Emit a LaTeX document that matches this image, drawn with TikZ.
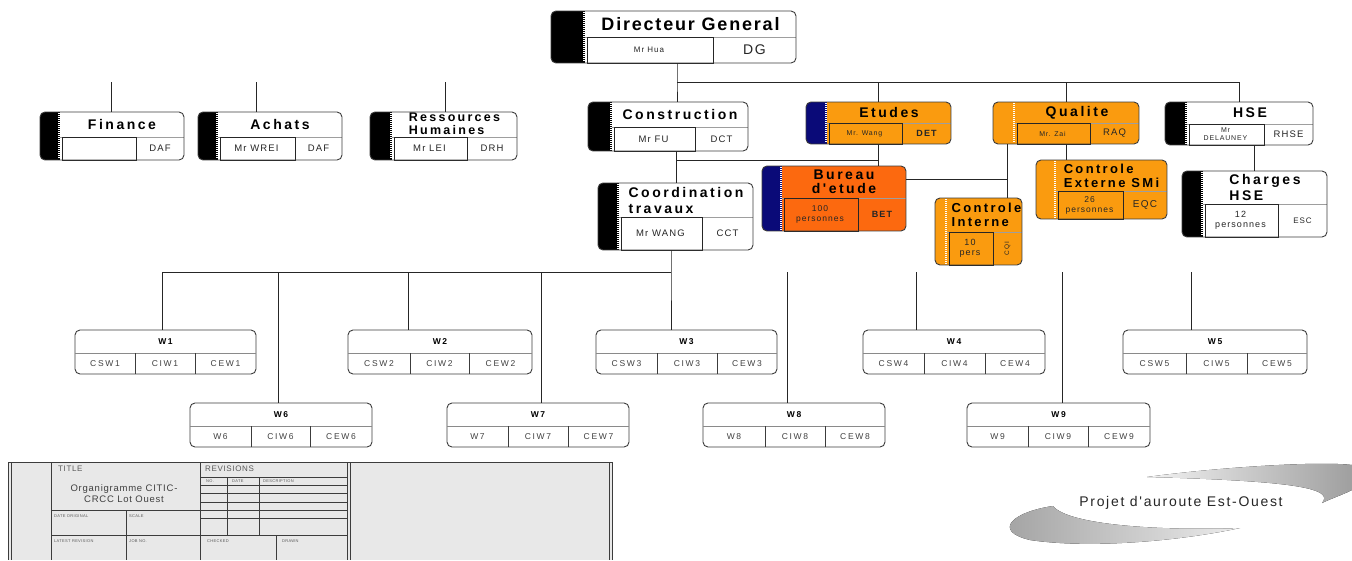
\documentclass[tikz,border=0pt]{standalone}
\usepackage{fontspec}
\setmainfont{Liberation Sans}
\newfontfamily\ttlfont[LetterSpace=18]{Liberation Sans}
\newfontfamily\dgfont[LetterSpace=10]{Liberation Sans}
\newfontfamily\cellfont[LetterSpace=12]{Liberation Sans}
\newfontfamily\wfont[LetterSpace=20]{Liberation Sans}
\newfontfamily\tbfont[LetterSpace=8]{Liberation Sans}
\definecolor{orgA}{RGB}{250,155,15}
\definecolor{orgB}{RGB}{252,105,15}
\definecolor{navyT}{RGB}{10,10,120}
\definecolor{lineG}{RGB}{60,60,60}
\definecolor{tbfill}{RGB}{232,232,232}
\tikzset{
 boxline/.style={draw=lineG, line width=0.9pt, rounded corners=5pt, inner sep=0pt, outer sep=0pt},
 conn/.style={draw=black!85, line width=0.8pt},
 ttl/.style={font=\ttlfont\bfseries\fontsize{14}{15}\selectfont, inner sep=0pt},
 cell/.style={font=\cellfont\fontsize{9.5}{10}\selectfont, text=black!85, inner sep=0pt, align=center},
 wttl/.style={font=\wfont\bfseries\fontsize{8.5}{9}\selectfont, inner sep=0pt},
 wcell/.style={font=\wfont\fontsize{8.5}{9}\selectfont, text=black!75, inner sep=0pt},
 tb/.style={font=\tbfont\fontsize{4}{5}\selectfont, text=black!65, inner sep=0pt, anchor=west},
 tbl/.style={draw=lineG, line width=0.7pt},
}
\newcommand\tabc{black}
\newcommand\orgbox[9]{%
 \begin{scope}
  \clip[rounded corners=5pt] (#2,#3) rectangle (#4,#5);
  \fill[#9] (#2,#3) rectangle (#4,#5);
  \fill[\tabc] (#2,#3) rectangle (#6,#5);
 \end{scope}
 \draw[white, line width=1.6pt, dash pattern=on 1pt off 1pt] (#6-1,#3+1) -- (#6-1,#5-1);
 \draw[lineG!50, line width=0.6pt] (#6,#7) -- (#4,#7);
 \draw[black!85, line width=0.9pt] (#6+2,#7) rectangle (#8,#5);
 \node[boxline, minimum width={(#4-#2)*1pt}, minimum height={(#5-#3)*1pt}] (#1) at ({(#2+#4)/2},{(#3+#5)/2}) {};
 \coordinate (#1-t) at ({(#6+#4)/2},{(#3+#7)/2});
 \coordinate (#1-l) at ({(#6+#8)/2},{(#7+#5)/2});
 \coordinate (#1-r) at ({(#8+#4)/2},{(#7+#5)/2});
}
\newcommand\wbox[8]{%
 \node[boxline, fill=white, minimum width={(#4-#2)*1pt}, minimum height=44pt] (#1) at ({(#2+#4)/2},{#3+22}) {};
 \draw[lineG!60, line width=0.6pt] (#2,#3+23) -- (#4,#3+23);
 \draw[lineG, line width=0.8pt] (#5,#3+23) -- (#5,#3+44) (#6,#3+23) -- (#6,#3+44);
 \node[wttl] (#1-t) at ({(#2+#4)/2},{#3+11.5}) {W#7};
 \node[wcell] (#1-a) at ({(#2+#5)/2},{#3+33.5}) {#8#7};
 \node[wcell] (#1-b) at ({(#5+#6)/2},{#3+33.5}) {CIW#7};
 \node[wcell] (#1-c) at ({(#6+#4)/2},{#3+33.5}) {CEW#7};
}
\begin{document}
\begin{tikzpicture}[x=1pt,y=-1pt]
\useasboundingbox (0,0) rectangle (1352,560);
\fill[white] (0,0) rectangle (1352,560);

% ---------- top boxes ----------
\orgbox{dg}{551}{11}{796}{63}{585}{37}{713}{white}
\node[ttl, font=\dgfont\bfseries\fontsize{18}{19}\selectfont] (dg-title) at (dg-t) {Directeur General};
\node[cell, font=\cellfont\fontsize{8}{9}\selectfont] (dg-name) at (dg-l) {Mr Hua};
\node[cell, font=\cellfont\fontsize{14}{15}\selectfont] (dg-code) at (dg-r) {DG};

\orgbox{fin}{40}{112}{184}{160}{60}{137}{136}{white}
\node[ttl] (fin-title) at (fin-t) {Finance};
\node[cell] (fin-code) at (fin-r) {DAF};

\orgbox{ach}{198}{112}{342}{160}{218}{137}{295}{white}
\node[ttl] (ach-title) at (ach-t) {Achats};
\node[cell] (ach-name) at (ach-l) {Mr WREI};
\node[cell] (ach-code) at (ach-r) {DAF};

\orgbox{rh}{370}{112}{517}{160}{392}{137}{467}{white}
\node[ttl, font=\ttlfont\bfseries\fontsize{12.5}{13}\selectfont, align=left] (rh-title) at ([yshift=1pt]rh-t) {Ressources\\Humaines};
\node[cell] (rh-name) at (rh-l) {Mr LEI};
\node[cell] (rh-code) at (rh-r) {DRH};

\orgbox{cst}{588}{102}{748}{151}{612}{127}{695}{white}
\node[ttl] (cst-title) at (cst-t) {Construction};
\node[cell] (cst-name) at (cst-l) {Mr FU};
\node[cell] (cst-code) at (cst-r) {DCT};

\orgbox{crd}{598}{183}{753}{250}{619}{217}{702}{white}
\node[ttl, align=left, font=\ttlfont\bfseries\fontsize{14}{16}\selectfont] (crd-title) at (crd-t) {Coordination\\ travaux};
\node[cell] (crd-name) at (crd-l) {Mr WANG};
\node[cell] (crd-code) at (crd-r) {CCT};

\renewcommand\tabc{navyT}
\orgbox{etu}{806}{102}{951}{144}{827}{123}{902}{orgA}
\node[ttl] (etu-title) at (etu-t) {Etudes};
\node[cell, font=\cellfont\fontsize{7}{8}\selectfont] (etu-name) at (etu-l) {Mr. Wang};
\node[cell, font=\cellfont\bfseries\fontsize{9}{10}\selectfont] (etu-code) at (etu-r) {DET};

\orgbox{bur}{762}{166}{906}{231}{782}{198}{858}{orgB}
\node[ttl, align=center, font=\ttlfont\bfseries\fontsize{14}{14}\selectfont] (bur-title) at (bur-t) {Bureau\\d'etude};
\node[cell, font=\cellfont\fontsize{8.5}{10}\selectfont] (bur-name) at (bur-l) {100\\personnes};
\node[cell, font=\cellfont\bfseries\fontsize{9}{10}\selectfont] (bur-code) at (bur-r) {BET};

\renewcommand\tabc{orgA}
\orgbox{qua}{993}{102}{1139}{144}{1015}{123}{1090}{orgA}
\node[ttl] (qua-title) at (qua-t) {Qualite};
\node[cell, font=\cellfont\fontsize{7}{8}\selectfont] (qua-name) at (qua-l) {Mr. Zai};
\node[cell] (qua-code) at (qua-r) {RAQ};

\orgbox{cin}{935}{198}{1022}{265}{947}{232}{993}{orgA}
\node[ttl, align=left, font=\ttlfont\bfseries\fontsize{13}{14}\selectfont] (cin-title) at ([xshift=2pt]cin-t) {Controle\\Interne};
\node[cell, font=\cellfont\fontsize{9}{10}\selectfont] (cin-name) at (cin-l) {10\\pers};
\node[cell, rotate=90, font=\cellfont\fontsize{6.5}{7}\selectfont] (cin-code) at (cin-r) {CQI};

\orgbox{cex}{1036}{160}{1167}{219}{1056}{191}{1123}{orgA}
\node[ttl, align=left, font=\ttlfont\bfseries\fontsize{13}{14}\selectfont] (cex-title) at (cex-t) {Controle\\Externe SMi};
\node[cell, font=\cellfont\fontsize{8.5}{10}\selectfont] (cex-name) at (cex-l) {26\\personnes};
\node[cell, font=\cellfont\fontsize{10}{11}\selectfont] (cex-code) at (cex-r) {EQC};

\renewcommand\tabc{black}
\orgbox{hse}{1165}{102}{1313}{145}{1187}{124}{1264}{white}
\node[ttl] (hse-title) at (hse-t) {HSE};
\node[cell, font=\cellfont\fontsize{7}{8}\selectfont] (hse-name) at (hse-l) {Mr\\DELAUNEY};
\node[cell] (hse-code) at (hse-r) {RHSE};

\orgbox{chg}{1182}{171}{1327}{237}{1203}{204}{1278}{white}
\node[ttl, align=left, font=\ttlfont\bfseries\fontsize{14}{16}\selectfont] (chg-title) at (chg-t) {Charges\\HSE};
\node[cell, font=\cellfont\fontsize{9}{10}\selectfont] (chg-name) at (chg-l) {12\\personnes};
\node[cell, font=\cellfont\fontsize{8}{9}\selectfont] (chg-code) at (chg-r) {ESC};

% ---------- W boxes ----------
\wbox{w1}{75}{330}{256}{135}{195}{1}{CSW}
\wbox{w2}{348}{330}{532}{410}{469}{2}{CSW}
\wbox{w3}{596}{330}{777}{657}{717}{3}{CSW}
\wbox{w4}{863}{330}{1045}{924}{985}{4}{CSW}
\wbox{w5}{1123}{330}{1307}{1186}{1247}{5}{CSW}
\wbox{w6}{190}{403}{372}{251}{310}{6}{W}
\wbox{w7}{447}{403}{629}{508}{568}{7}{W}
\wbox{w8}{703}{403}{885}{765}{825}{8}{W}
\wbox{w9}{967}{403}{1150}{1028}{1088}{9}{W}

% ---------- connectors ----------
\coordinate (jdg) at (677,82);
\draw[conn] (dg.south -| jdg) -- (jdg) -- (cst.north -| jdg);
\draw[conn] (jdg) -- (jdg -| hse.north) -- (hse.north);
\draw[conn] (jdg -| etu.north) -- (etu.north);
\draw[conn] (jdg -| qua.north) -- (qua.north);
\coordinate (tfin) at (111,82);
\coordinate (tach) at (256,82);
\coordinate (trh) at (445,82);
\draw[conn] (tfin) -- (tfin |- fin.north);
\draw[conn] (tach) -- (tach |- ach.north);
\draw[conn] (trh) -- (trh |- rh.north);
\coordinate (jc) at (676,160);
\draw[conn] (cst.south -| jc) -- (crd.north -| jc);
\draw[conn] (jc) -- (jc -| etu.south);
\draw[conn] (etu.south) -- (etu.south |- bur.north);
\coordinate (jq) at (1007,179);
\draw[conn] (bur.east |- jq) -- (jq);
\draw[conn] (qua.south -| jq) -- (cin.north -| jq);
\draw[conn] (qua.south) -- (qua.south |- cex.north);
\draw[conn] (chg.north) -- (chg.north |- hse.south);
\coordinate (jw) at (671,272);
\coordinate (jw1) at (162,272);
\coordinate (jw6) at (278,272);
\coordinate (jw2) at (408,272);
\coordinate (jw7) at (541,272);
\coordinate (jw8) at (787,272);
\coordinate (jw4) at (916,272);
\coordinate (jw9) at (1062,272);
\coordinate (jw5) at (1191,272);
\draw[conn] (crd.south -| jw) -- (jw) -- (w3.north -| jw);
\draw[conn] (jw) -- (jw1) -- (jw1 |- w1.north);
\draw[conn] (jw6) -- (jw6 |- w6.north);
\draw[conn] (jw2) -- (jw2 |- w2.north);
\draw[conn] (jw7) -- (jw7 |- w7.north);
\draw[conn] (jw8) -- (jw8 |- w8.north);
\draw[conn] (jw4) -- (jw4 |- w4.north);
\draw[conn] (jw9) -- (jw9 |- w9.north);
\draw[conn] (jw5) -- (jw5 |- w5.north);

% ---------- title block ----------
\fill[tbfill] (8,462) rectangle (613,560);
\draw[tbl] (8,462) -- (613,462);
\draw[tbl] (8,462) -- (8,560) (11,462) -- (11,560) (51,462) -- (51,560);
\draw[tbl] (200,462) -- (200,560) (347,462) -- (347,560) (350,462) -- (350,560);
\draw[tbl] (609,462) -- (609,560) (612,462) -- (612,560);
\draw[tbl] (51,510) -- (200,510) (51,535) -- (347,535);
\draw[tbl] (200,477) -- (347,477) (200,485) -- (347,485) (200,493) -- (347,493)
  (200,502) -- (347,502) (200,510) -- (347,510) (200,518) -- (347,518);
\draw[tbl] (227,477) -- (227,535) (259,477) -- (259,535);
\draw[tbl] (126,510) -- (126,560) (276,535) -- (276,560);
\node[tb, font=\tbfont\fontsize{8}{9}\selectfont] (tb-title) at (58,469) {TITLE};
\node[tb, font=\tbfont\fontsize{8}{9}\selectfont] (tb-rev) at (205,469) {REVISIONS};
\node[inner sep=0pt, align=center, text=black!75, font=\tbfont\fontsize{9.5}{11}\selectfont] (tb-name) at (124,494) {Organigramme CITIC-\\CRCC Lot Ouest};
\node[tb] (tb-no) at (206,481) {NO.};
\node[tb] (tb-date) at (232,481) {DATE};
\node[tb] (tb-desc) at (263,481) {DESCRIPTION};
\node[tb] (tb-dorig) at (54,516) {DATE ORIGINAL};
\node[tb] (tb-scale) at (129,516) {SCALE};
\node[tb] (tb-latest) at (54,541) {LATEST REVISION};
\node[tb] (tb-job) at (129,541) {JOB NO.};
\node[tb] (tb-chk) at (207,541) {CHECKED};
\node[tb] (tb-drawn) at (282,541) {DRAWN};

% ---------- logo ----------
\fill[left color=white!90!gray, right color=gray!75] (1147,477) .. controls (1220,467) and (1320,461) .. (1352,465) -- (1352,490) .. controls (1342,495) and (1330,499) .. (1322,503) .. controls (1334,489) and (1300,481) .. (1147,477) -- cycle;
\fill[left color=gray!75, right color=gray!15] (1053,506) .. controls (1012,512) and (992,531) .. (1030,540) .. controls (1090,549) and (1180,541) .. (1240,528) .. controls (1160,531) and (1068,525) .. (1053,506) -- cycle;
\node[inner sep=0pt, text=black!85, font=\cellfont\fontsize{14}{15}\selectfont] (logo) at (1181,503) {Projet d'auroute Est-Ouest};
\end{tikzpicture}
\end{document}
